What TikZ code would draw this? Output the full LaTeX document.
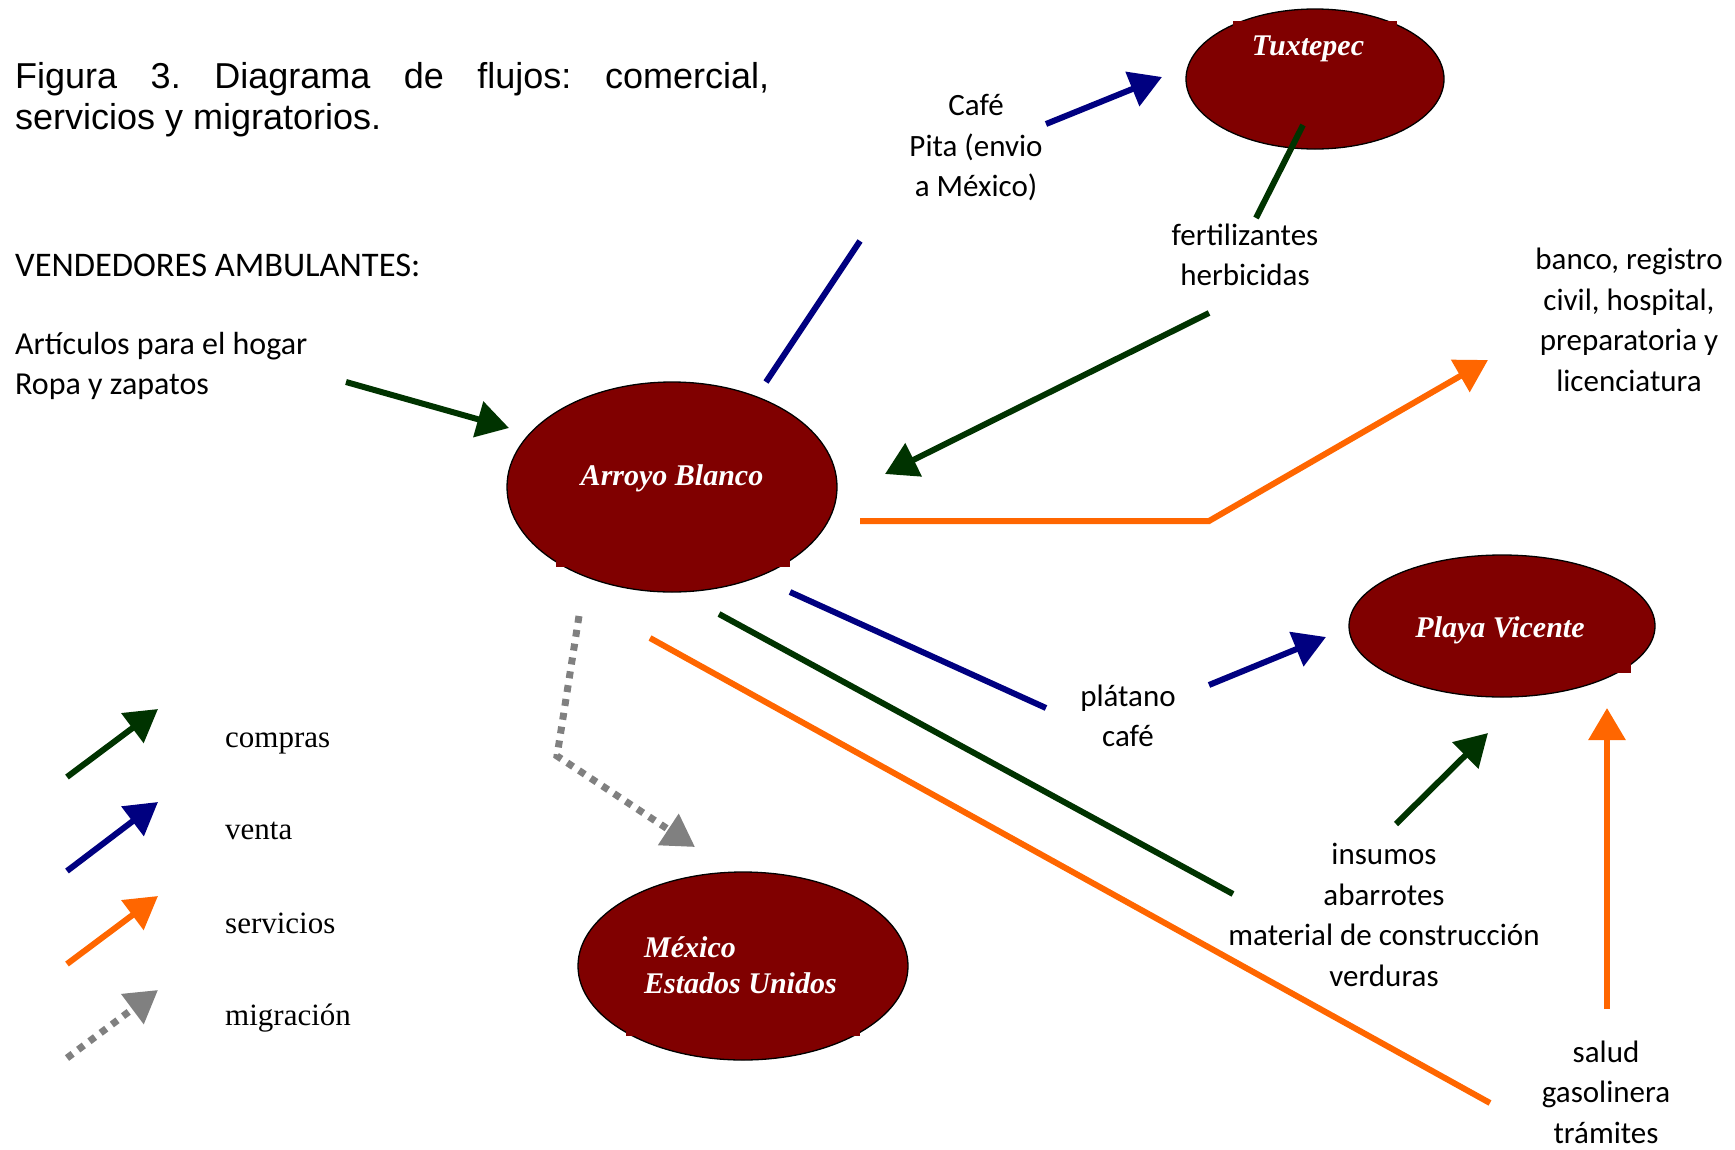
\documentclass[tikz,border=0pt]{standalone}
\usepackage{fontspec}
\setmainfont{Liberation Serif}
\newfontfamily\handfont{Carlito}
\newfontfamily\titlefont{Liberation Sans}
\usetikzlibrary{arrows.meta,shapes.geometric}
\definecolor{nodered}{HTML}{800000}
\definecolor{cgreen}{HTML}{003300}
\definecolor{cblue}{HTML}{000080}
\definecolor{corange}{HTML}{FF6600}
\definecolor{cgray}{HTML}{808080}
\frenchspacing
\begin{document}
\begin{tikzpicture}[x=1pt,y=-1pt,
  place/.style={ellipse, draw=black, line width=1.3pt, fill=nodered, inner sep=0pt},
  placetext/.style={text=white, inner sep=0pt, align=left,
    font=\fontsize{30}{36}\selectfont\bfseries\itshape},
  flow/.style={line width=6pt},
  tipend/.style={-{Triangle[length=32pt,width=36pt]}},
  buy/.style={flow, draw=cgreen},
  sell/.style={flow, draw=cblue},
  serv/.style={flow, draw=corange},
  migr/.style={line width=7pt, draw=cgray, dash pattern=on 7pt off 7pt},
  lab/.style={font=\handfont\fontsize{31}{40.5}\selectfont, align=center, inner sep=0pt},
  leg/.style={font=\fontsize{31}{36}\selectfont, anchor=base west, inner sep=0pt},
  ttl/.style={font=\titlefont\fontsize{36}{41}\selectfont, anchor=base west, inner sep=0pt}
]
\useasboundingbox (0,0) rectangle (1735,1149);

% title
\node[ttl] (t1) at (15,88) {\makebox[754pt][s]{Figura 3. Diagrama de flujos: comercial,}};
\node[ttl] (t2) at (15,129) {servicios y migratorios.};

% places
\node[place, minimum width=258pt, minimum height=140pt] (tux) at (1315,79) {};
\node[place, minimum width=330pt, minimum height=210pt] (arr) at (672,487) {};
\node[place, minimum width=306pt, minimum height=142pt] (pla) at (1502,626) {};
\node[place, minimum width=330pt, minimum height=188pt] (mex) at (743,966) {};
% text-box fills poking out of the ellipses
\fill[nodered] (1233,21) rectangle (1397,70);
\fill[nodered] (556,440) rectangle (790,567);
\fill[nodered] (1400,600) rectangle (1631,673);
\fill[nodered] (626,930) rectangle (860,1036);

\node[placetext] (tuxt) at (1308,49) {Tuxtepec};
\node[placetext] (arrt) at (672,478) {Arroyo Blanco};
\node[placetext] (plat) at (1500,630) {Playa Vicente};
\node[placetext, anchor=west] (mext) at (644,965) {México\\Estados Unidos};

% text labels
\node[lab, anchor=west, font=\handfont\fontsize{34.5}{40.5}\selectfont] (vend) at (15,265) {VENDEDORES AMBULANTES:};
\node[lab, anchor=west, align=left, font=\handfont\fontsize{32}{40.5}\selectfont] (art) at (15,366) {Artículos para el hogar\\Ropa y zapatos};
\node[lab] (cafe) at (976,148) {Café\\Pita (envio\\a México)};
\node[lab] (fert) at (1245,255) {fertilizantes\\herbicidas};
\node[lab] (banco) at (1629,320) {banco, registro\\civil, hospital,\\preparatoria y\\licenciatura};
\node[lab] (plat2) at (1128,716) {plátano\\café};
\node[lab] (insu) at (1384,915) {insumos\\abarrotes\\material de construcción\\verduras};
\node[lab] (salud) at (1606,1092) {salud\\gasolinera\\trámites};

% connector coordinates
\coordinate (v1) at (346,382);   \coordinate (v2) at (509,428);
\coordinate (b1) at (766,382);   \coordinate (b2) at (860,241);
\coordinate (b3) at (1046,124);  \coordinate (b4) at (1162,77);
\coordinate (g1) at (1303,125);  \coordinate (g2) at (1256,218);
\coordinate (g3) at (1209,313);  \coordinate (g4) at (885,474);
\coordinate (o1) at (860,521);   \coordinate (o2) at (1209,521);
\coordinate (o3) at (1488,360);
\coordinate (p1) at (790,592);   \coordinate (p2) at (1046,708);
\coordinate (p3) at (1209,685);  \coordinate (p4) at (1326,637);
\coordinate (i1) at (719,614);   \coordinate (i2) at (1233,894);
\coordinate (i3) at (1396,824);  \coordinate (i4) at (1488,733);
\coordinate (s1) at (650,638);   \coordinate (s2) at (1490,1103);
\coordinate (s3) at (1607,1009); \coordinate (s4) at (1607,708);
\coordinate (m1) at (579,616);   \coordinate (m2) at (557,756);
\coordinate (m3) at (695,847);

% connectors
\draw[buy, tipend] (v1) -- (v2);
\draw[sell] (b1) -- (b2);
\draw[sell, tipend] (b3) -- (b4);
\draw[buy] (g1) -- (g2);
\draw[buy, tipend] (g3) -- (g4);
\draw[serv, tipend] (o1) -- (o2) -- (o3);
\draw[sell] (p1) -- (p2);
\draw[sell, tipend] (p3) -- (p4);
\draw[buy] (i1) -- (i2);
\draw[buy, tipend] (i3) -- (i4);
\draw[serv] (s1) -- (s2);
\draw[serv, tipend] (s3) -- (s4);
\draw[migr, tipend] (m1) -- (m2) -- (m3);

% legend
\coordinate (la1) at (67,777);  \coordinate (la2) at (158,709);
\coordinate (lb1) at (67,871);  \coordinate (lb2) at (158,802);
\coordinate (lc1) at (67,964);  \coordinate (lc2) at (158,896);
\coordinate (ld1) at (67,1058); \coordinate (ld2) at (158,990);
\draw[buy, tipend] (la1) -- (la2);
\draw[sell, tipend] (lb1) -- (lb2);
\draw[serv, tipend] (lc1) -- (lc2);
\draw[migr, tipend] (ld1) -- (ld2);
\node[leg] (lega) at (225,747) {compras};
\node[leg] (legb) at (225,839) {venta};
\node[leg] (legc) at (225,933) {servicios};
\node[leg] (legd) at (225,1025) {migración};
\end{tikzpicture}
\end{document}
